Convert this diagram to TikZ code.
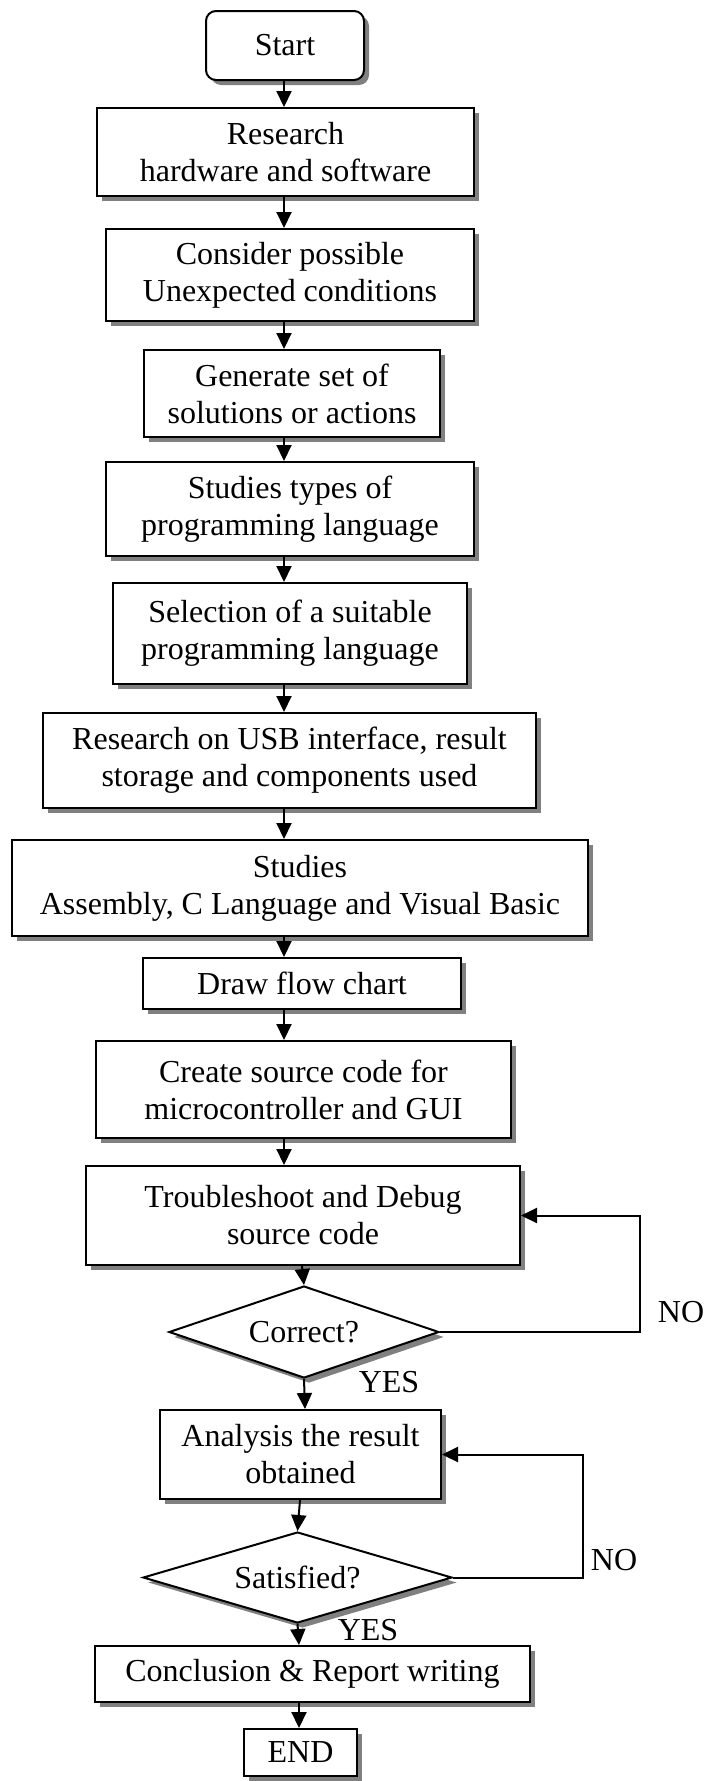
\documentclass[tikz,border=0pt]{standalone}
\usepackage{fontspec}
\setmainfont{Liberation Serif}
\usetikzlibrary{arrows.meta,shapes.geometric,shadows}
\begin{document}
\begin{tikzpicture}[x=1pt,y=-1pt,
  every node/.style={font=\fontsize{32}{37}\selectfont},
  shad/.style={drop shadow={shadow xshift=5pt,shadow yshift=-5pt,fill=black!50,opacity=1}},
  box/.style={draw,line width=2pt,fill=white,shad,inner sep=0pt,align=center},
  dia/.style={draw,line width=2pt,fill=white,shad,diamond,aspect=3,inner sep=0pt},
  arr/.style={draw,line width=2pt,-{Triangle[length=16pt,width=15pt]}},
  lbl/.style={inner sep=0pt}]
\useasboundingbox (0,0) rectangle (707,1781);
\node[box,rounded corners=10pt,minimum width=158pt,minimum height=69pt] (start) at (285,45.5) {Start};
\node[box,minimum width=377pt,minimum height=88pt] (research) at (285.5,152) {Research\\hardware and software};
\node[box,minimum width=368pt,minimum height=92pt] (consider) at (290,275) {Consider possible\\Unexpected conditions};
\node[box,minimum width=296pt,minimum height=87pt] (generate) at (292,393.5) {Generate set of\\solutions or actions};
\node[box,minimum width=368pt,minimum height=94pt] (types) at (290,509) {Studies types of\\programming language};
\node[box,minimum width=354pt,minimum height=101pt] (select) at (290,633.5) {Selection of a suitable\\programming language};
\node[box,minimum width=493pt,minimum height=95pt] (usb) at (289.5,760.5) {Research on USB interface, result\\storage and components used};
\node[box,minimum width=576pt,minimum height=96pt] (asm) at (300,888) {Studies\\Assembly, C Language and Visual Basic};
\node[box,minimum width=318pt,minimum height=51pt] (flow) at (302,983.5) {Draw flow chart};
\node[box,minimum width=415pt,minimum height=97pt] (create) at (303.5,1089.5) {Create source code for\\microcontroller and GUI};
\node[box,minimum width=434pt,minimum height=99pt] (trouble) at (303,1215.5) {Troubleshoot and Debug\\source code};
\node[dia,minimum width=270pt,minimum height=92pt] (correct) at (304,1332) {Correct?};
\node[box,minimum width=281pt,minimum height=89pt] (analysis) at (300.5,1454.5) {Analysis the result\\obtained};
\node[dia,minimum width=309pt,minimum height=91pt] (satisfied) at (297.5,1577.5) {Satisfied?};
\node[box,minimum width=435pt,minimum height=56pt] (concl) at (312.5,1674) {Conclusion \& Report writing};
\node[box,minimum width=113pt,minimum height=47pt] (endn) at (300.5,1752.5) {END};
\coordinate (ax) at (284,0);
\coordinate (bx) at (302,0);
\coordinate (cx) at (305,0);
\coordinate (dx) at (300,0);
\coordinate (ex) at (299,0);
\coordinate (loopa) at (640,0);
\coordinate (loopb) at (583,0);
\draw[arr] (start.south -| ax) -- (research.north -| ax);
\draw[arr] (research.south -| ax) -- (consider.north -| ax);
\draw[arr] (consider.south -| ax) -- (generate.north -| ax);
\draw[arr] (generate.south -| ax) -- (types.north -| ax);
\draw[arr] (types.south -| ax) -- (select.north -| ax);
\draw[arr] (select.south -| ax) -- (usb.north -| ax);
\draw[arr] (usb.south -| ax) -- (asm.north -| ax);
\draw[arr] (asm.south -| ax) -- (flow.north -| ax);
\draw[arr] (flow.south -| ax) -- (create.north -| ax);
\draw[arr] (create.south -| ax) -- (trouble.north -| ax);
\draw[arr] (trouble.south -| bx) -- (correct.north);
\draw[arr] (correct.south) -- (analysis.north -| cx);
\draw[arr] (analysis.south -| dx) -- (satisfied.north);
\draw[arr] (satisfied.south) -- (concl.north -| ex);
\draw[arr] (concl.south -| ex) -- (endn.north -| ex);
\draw[arr] (correct.east) -- (correct.east -| loopa) -- (loopa |- trouble.east) -- (trouble.east);
\draw[arr] (satisfied.east) -- (satisfied.east -| loopb) -- (loopb |- analysis.east) -- (analysis.east);
\node[lbl] (no1) at (681,1312) {NO};
\node[lbl] (yes1) at (389,1382) {YES};
\node[lbl] (no2) at (614,1560) {NO};
\node[lbl] (yes2) at (368,1630) {YES};
\end{tikzpicture}
\end{document}
